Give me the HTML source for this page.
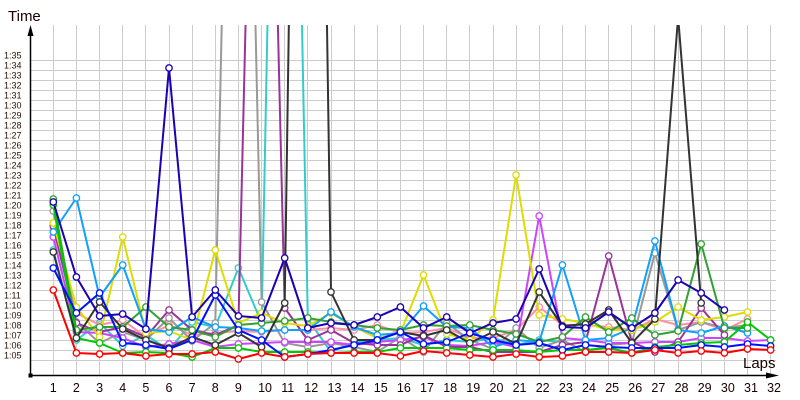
<!DOCTYPE html>
<html><head><meta charset="utf-8">
<style>
html,body{margin:0;padding:0;background:#fff;}
svg{display:block;}
text{font-family:"Liberation Sans",sans-serif;}
</style></head>
<body>
<svg width="800" height="400" viewBox="0 0 800 400" xmlns="http://www.w3.org/2000/svg">
<defs>
<clipPath id="clip"><rect x="0" y="25" width="800" height="351"/></clipPath>
<marker id="m-red" markerUnits="userSpaceOnUse" markerWidth="10" markerHeight="10" refX="5" refY="5" overflow="visible"><circle cx="5" cy="5" r="3.2" fill="#fff" stroke="#ff0000" stroke-width="1.3"/></marker>
<marker id="m-navy" markerUnits="userSpaceOnUse" markerWidth="10" markerHeight="10" refX="5" refY="5" overflow="visible"><circle cx="5" cy="5" r="3.2" fill="#fff" stroke="#1c00b4" stroke-width="1.3"/></marker>
<marker id="m-blue" markerUnits="userSpaceOnUse" markerWidth="10" markerHeight="10" refX="5" refY="5" overflow="visible"><circle cx="5" cy="5" r="3.2" fill="#fff" stroke="#0010ff" stroke-width="1.3"/></marker>
<marker id="m-lb" markerUnits="userSpaceOnUse" markerWidth="10" markerHeight="10" refX="5" refY="5" overflow="visible"><circle cx="5" cy="5" r="3.2" fill="#fff" stroke="#10a0ff" stroke-width="1.3"/></marker>
<marker id="m-yel" markerUnits="userSpaceOnUse" markerWidth="10" markerHeight="10" refX="5" refY="5" overflow="visible"><circle cx="5" cy="5" r="3.2" fill="#fff" stroke="#dddd00" stroke-width="1.3"/></marker>
<marker id="m-vio" markerUnits="userSpaceOnUse" markerWidth="10" markerHeight="10" refX="5" refY="5" overflow="visible"><circle cx="5" cy="5" r="3.2" fill="#fff" stroke="#cc44ff" stroke-width="1.3"/></marker>
<marker id="m-pur" markerUnits="userSpaceOnUse" markerWidth="10" markerHeight="10" refX="5" refY="5" overflow="visible"><circle cx="5" cy="5" r="3.2" fill="#fff" stroke="#993399" stroke-width="1.3"/></marker>
<marker id="m-pink" markerUnits="userSpaceOnUse" markerWidth="10" markerHeight="10" refX="5" refY="5" overflow="visible"><circle cx="5" cy="5" r="3.2" fill="#fff" stroke="#ff8fa8" stroke-width="1.3"/></marker>
<marker id="m-gray" markerUnits="userSpaceOnUse" markerWidth="10" markerHeight="10" refX="5" refY="5" overflow="visible"><circle cx="5" cy="5" r="3.2" fill="#fff" stroke="#999999" stroke-width="1.3"/></marker>
<marker id="m-dg" markerUnits="userSpaceOnUse" markerWidth="10" markerHeight="10" refX="5" refY="5" overflow="visible"><circle cx="5" cy="5" r="3.2" fill="#fff" stroke="#333333" stroke-width="1.3"/></marker>
<marker id="m-cyan" markerUnits="userSpaceOnUse" markerWidth="10" markerHeight="10" refX="5" refY="5" overflow="visible"><circle cx="5" cy="5" r="3.2" fill="#fff" stroke="#33cccc" stroke-width="1.3"/></marker>
<marker id="m-green" markerUnits="userSpaceOnUse" markerWidth="10" markerHeight="10" refX="5" refY="5" overflow="visible"><circle cx="5" cy="5" r="3.2" fill="#fff" stroke="#33a033" stroke-width="1.3"/></marker>
<marker id="m-lime" markerUnits="userSpaceOnUse" markerWidth="10" markerHeight="10" refX="5" refY="5" overflow="visible"><circle cx="5" cy="5" r="3.2" fill="#fff" stroke="#00c800" stroke-width="1.3"/></marker>
</defs>

<!-- grid -->
<g stroke="#cccccc" stroke-width="1" shape-rendering="crispEdges">
<line x1="30" y1="60.5" x2="776" y2="60.5"/><line x1="30" y1="70.5" x2="776" y2="70.5"/><line x1="30" y1="80.5" x2="776" y2="80.5"/><line x1="30" y1="90.5" x2="776" y2="90.5"/><line x1="30" y1="100.5" x2="776" y2="100.5"/><line x1="30" y1="110.5" x2="776" y2="110.5"/><line x1="30" y1="120.5" x2="776" y2="120.5"/><line x1="30" y1="130.5" x2="776" y2="130.5"/><line x1="30" y1="140.5" x2="776" y2="140.5"/><line x1="30" y1="150.5" x2="776" y2="150.5"/><line x1="30" y1="160.5" x2="776" y2="160.5"/><line x1="30" y1="170.5" x2="776" y2="170.5"/><line x1="30" y1="180.5" x2="776" y2="180.5"/><line x1="30" y1="190.5" x2="776" y2="190.5"/><line x1="30" y1="200.5" x2="776" y2="200.5"/><line x1="30" y1="210.5" x2="776" y2="210.5"/><line x1="30" y1="220.5" x2="776" y2="220.5"/><line x1="30" y1="230.5" x2="776" y2="230.5"/><line x1="30" y1="240.5" x2="776" y2="240.5"/><line x1="30" y1="250.5" x2="776" y2="250.5"/><line x1="30" y1="260.5" x2="776" y2="260.5"/><line x1="30" y1="270.5" x2="776" y2="270.5"/><line x1="30" y1="280.5" x2="776" y2="280.5"/><line x1="30" y1="290.5" x2="776" y2="290.5"/><line x1="30" y1="300.5" x2="776" y2="300.5"/><line x1="30" y1="310.5" x2="776" y2="310.5"/><line x1="30" y1="320.5" x2="776" y2="320.5"/><line x1="30" y1="330.5" x2="776" y2="330.5"/><line x1="30" y1="340.5" x2="776" y2="340.5"/><line x1="30" y1="350.5" x2="776" y2="350.5"/><line x1="30" y1="360.5" x2="776" y2="360.5"/>
<line x1="53.5" y1="25" x2="53.5" y2="375"/><line x1="76.5" y1="25" x2="76.5" y2="375"/><line x1="99.5" y1="25" x2="99.5" y2="375"/><line x1="122.5" y1="25" x2="122.5" y2="375"/><line x1="145.5" y1="25" x2="145.5" y2="375"/><line x1="169.5" y1="25" x2="169.5" y2="375"/><line x1="192.5" y1="25" x2="192.5" y2="375"/><line x1="215.5" y1="25" x2="215.5" y2="375"/><line x1="238.5" y1="25" x2="238.5" y2="375"/><line x1="261.5" y1="25" x2="261.5" y2="375"/><line x1="284.5" y1="25" x2="284.5" y2="375"/><line x1="307.5" y1="25" x2="307.5" y2="375"/><line x1="331.5" y1="25" x2="331.5" y2="375"/><line x1="354.5" y1="25" x2="354.5" y2="375"/><line x1="377.5" y1="25" x2="377.5" y2="375"/><line x1="400.5" y1="25" x2="400.5" y2="375"/><line x1="423.5" y1="25" x2="423.5" y2="375"/><line x1="446.5" y1="25" x2="446.5" y2="375"/><line x1="469.5" y1="25" x2="469.5" y2="375"/><line x1="493.5" y1="25" x2="493.5" y2="375"/><line x1="516.5" y1="25" x2="516.5" y2="375"/><line x1="539.5" y1="25" x2="539.5" y2="375"/><line x1="562.5" y1="25" x2="562.5" y2="375"/><line x1="585.5" y1="25" x2="585.5" y2="375"/><line x1="608.5" y1="25" x2="608.5" y2="375"/><line x1="631.5" y1="25" x2="631.5" y2="375"/><line x1="654.5" y1="25" x2="654.5" y2="375"/><line x1="678.5" y1="25" x2="678.5" y2="375"/><line x1="701.5" y1="25" x2="701.5" y2="375"/><line x1="724.5" y1="25" x2="724.5" y2="375"/><line x1="747.5" y1="25" x2="747.5" y2="375"/><line x1="770.5" y1="25" x2="770.5" y2="375"/>
</g>

<!-- series -->
<g clip-path="url(#clip)" fill="none" stroke-width="2" stroke-linejoin="round">
<polyline stroke="#33cccc" marker-start="url(#m-cyan)" marker-mid="url(#m-cyan)" marker-end="url(#m-cyan)" points="53.3,250 76.4,340 99.6,323 122.7,346 145.9,335 169,350 192.1,322 215.3,327 238.4,268 261.6,323 284.7,-850 307.8,319 331,352 354.1,342 377.3,340 400.4,338 423.5,345 446.7,340 469.8,342 493,338 516.1,345 539.2,340 562.4,342"/>
<polyline stroke="#ff8fa8" marker-start="url(#m-pink)" marker-mid="url(#m-pink)" marker-end="url(#m-pink)" points="53.3,230 76.4,313 99.6,325 122.7,320 145.9,337 169,325 192.1,335 215.3,333 238.4,331 261.6,332 284.7,330 307.8,330 331,328 354.1,330 377.3,325 400.4,333 423.5,332 446.7,328 469.8,338 493,338 516.1,330 539.2,307 562.4,325 585.5,325 608.7,327 631.8,330 654.9,319 678.1,325 701.2,322 724.4,330 747.5,319"/>
<polyline stroke="#999999" marker-start="url(#m-gray)" marker-mid="url(#m-gray)" marker-end="url(#m-gray)" points="53.3,211 76.4,322 99.6,343 122.7,332 145.9,340 169,318 192.1,341 215.3,323 238.4,-750 261.6,302 284.7,343 307.8,347 331,343 354.1,347 377.3,352 400.4,337 423.5,352 446.7,323 469.8,340 493,349 516.1,328 539.2,348 562.4,340 585.5,352 608.7,345 631.8,343 654.9,253 678.1,330 701.2,322 724.4,328 747.5,325"/>
<polyline stroke="#cc44ff" marker-start="url(#m-vio)" marker-mid="url(#m-vio)" marker-end="url(#m-vio)" points="53.3,237 76.4,332 99.6,333 122.7,338 145.9,347 169,344 192.1,340 215.3,347 238.4,344 261.6,343 284.7,342 307.8,342 331,342 354.1,345 377.3,342 400.4,340 423.5,337 446.7,345 469.8,346 493,342 516.1,347 539.2,216 562.4,338 585.5,340 608.7,343 631.8,343 654.9,342 678.1,342 701.2,338 724.4,338 747.5,341 770.6,340"/>
<polyline stroke="#993399" marker-start="url(#m-pur)" marker-mid="url(#m-pur)" marker-end="url(#m-pur)" points="53.3,226 76.4,323 99.6,332 122.7,327 145.9,337 169,310 192.1,330 215.3,335 238.4,325 261.6,-650 284.7,308 307.8,340 331,330 354.1,343 377.3,345 400.4,345 423.5,335 446.7,347 469.8,347 493,352 516.1,352 539.2,352 562.4,345 585.5,342 608.7,256 631.8,342 654.9,352 678.1,342 701.2,308 724.4,335"/>
<polyline stroke="#dddd00" marker-start="url(#m-yel)" marker-mid="url(#m-yel)" marker-end="url(#m-yel)" points="53.3,223 76.4,307 99.6,337 122.7,237 145.9,333 169,331 192.1,340 215.3,250 238.4,323 261.6,313 284.7,323 307.8,326 331,313 354.1,327 377.3,338 400.4,333 423.5,275 446.7,334 469.8,340 493,320 516.1,175 539.2,315 562.4,319 585.5,323 608.7,330 631.8,330 654.9,322 678.1,307 701.2,320 724.4,317 747.5,312"/>
<polyline stroke="#10a0ff" marker-start="url(#m-lb)" marker-mid="url(#m-lb)" marker-end="url(#m-lb)" points="53.3,232 76.4,198 99.6,297 122.7,265 145.9,329 169,332 192.1,317 215.3,327 238.4,328 261.6,331 284.7,330 307.8,330 331,312 354.1,327 377.3,335 400.4,333 423.5,306 446.7,327 469.8,328 493,347 516.1,340 539.2,342 562.4,265 585.5,340 608.7,338 631.8,328 654.9,241 678.1,330 701.2,333 724.4,326 747.5,333"/>
<polyline stroke="#33a033" marker-start="url(#m-green)" marker-mid="url(#m-green)" marker-end="url(#m-green)" points="53.3,199 76.4,330 99.6,327 122.7,327 145.9,307 169,327 192.1,330 215.3,337 238.4,325 261.6,323 284.7,321 307.8,318 331,322 354.1,325 377.3,328 400.4,330 423.5,325 446.7,326 469.8,325 493,330 516.1,334 539.2,342 562.4,337 585.5,317 608.7,332 631.8,318 654.9,335 678.1,331 701.2,244 724.4,328 747.5,328"/>
<polyline stroke="#00c800" marker-start="url(#m-lime)" marker-mid="url(#m-lime)" marker-end="url(#m-lime)" points="53.3,205 76.4,338 99.6,343 122.7,353 145.9,352 169,353 192.1,357 215.3,348 238.4,348 261.6,352 284.7,352 307.8,352 331,353 354.1,352 377.3,352 400.4,348 423.5,348 446.7,348 469.8,350 493,350 516.1,350 539.2,352 562.4,350 585.5,350 608.7,348 631.8,353 654.9,347 678.1,345 701.2,343 724.4,342 747.5,322 770.6,340"/>
<polyline stroke="#333333" marker-start="url(#m-dg)" marker-mid="url(#m-dg)" marker-end="url(#m-dg)" points="53.3,252 76.4,338 99.6,302 122.7,329 145.9,340 169,348 192.1,337 215.3,345 238.4,333 261.6,347 284.7,303 307.8,-1250 331,292 354.1,340 377.3,340 400.4,332 423.5,336 446.7,330 469.8,343 493,332 516.1,344 539.2,292 562.4,326 585.5,324 608.7,310 631.8,343 654.9,319 678.1,17 701.2,303"/>
<polyline stroke="#0010ff" marker-start="url(#m-blue)" marker-mid="url(#m-blue)" marker-end="url(#m-blue)" points="53.3,268 76.4,313 99.6,293 122.7,343 145.9,345 169,349 192.1,340 215.3,295 238.4,330 261.6,340 284.7,357 307.8,354 331,350 354.1,345 377.3,340 400.4,332 423.5,344 446.7,342 469.8,333 493,340 516.1,345 539.2,343 562.4,350 585.5,345 608.7,347 631.8,348 654.9,348 678.1,348 701.2,345 724.4,347 747.5,344 770.6,346"/>
<polyline stroke="#1c00b4" marker-start="url(#m-navy)" marker-mid="url(#m-navy)" marker-end="url(#m-navy)" points="53.3,202 76.4,277 99.6,316 122.7,314 145.9,329 169,68 192.1,317 215.3,290 238.4,316 261.6,318 284.7,258 307.8,328 331,323 354.1,325 377.3,317 400.4,307 423.5,328 446.7,317 469.8,333 493,323 516.1,319 539.2,269 562.4,327 585.5,328 608.7,312 631.8,328 654.9,313 678.1,280 701.2,293 724.4,310"/>
<polyline stroke="#ff0000" marker-start="url(#m-red)" marker-mid="url(#m-red)" marker-end="url(#m-red)" points="53.3,290 76.4,353 99.6,354 122.7,353 145.9,356 169,354 192.1,354 215.3,352 238.4,359 261.6,353 284.7,357 307.8,354 331,353 354.1,353 377.3,353 400.4,356 423.5,351 446.7,353 469.8,355 493,357 516.1,354 539.2,357 562.4,356 585.5,352 608.7,352 631.8,353 654.9,350 678.1,353 701.2,351 724.4,353 747.5,349 770.6,350"/>
</g>

<!-- axes -->
<g stroke="#000" stroke-width="1.5">
<line x1="30.5" y1="376" x2="30.5" y2="32"/>
<line x1="30" y1="375.5" x2="768" y2="375.5"/>
</g>
<polygon points="30.5,25 27.5,36 33.5,36" fill="#000"/>
<polygon points="779,375.5 766,372.5 766,378.5" fill="#000"/>
<rect x="28.5" y="373.5" width="4" height="4" fill="#000"/>

<text x="8" y="21" font-size="15" fill="#1a0000">Time</text>
<text x="743" y="368" font-size="15" fill="#1a0000">Laps</text>

<!-- y labels -->
<g font-size="9" fill="#2a1000">
<text x="4" y="58.5">1:35</text><text x="4" y="68.5">1:34</text><text x="4" y="78.5">1:33</text><text x="4" y="88.5">1:32</text><text x="4" y="98.5">1:31</text><text x="4" y="108.5">1:30</text><text x="4" y="118.5">1:29</text><text x="4" y="128.5">1:28</text><text x="4" y="138.5">1:27</text><text x="4" y="148.5">1:26</text><text x="4" y="158.5">1:25</text><text x="4" y="168.5">1:24</text><text x="4" y="178.5">1:23</text><text x="4" y="188.5">1:22</text><text x="4" y="198.5">1:21</text><text x="4" y="208.5">1:20</text><text x="4" y="218.5">1:19</text><text x="4" y="228.5">1:18</text><text x="4" y="238.5">1:17</text><text x="4" y="248.5">1:16</text><text x="4" y="258.5">1:15</text><text x="4" y="268.5">1:14</text><text x="4" y="278.5">1:13</text><text x="4" y="288.5">1:12</text><text x="4" y="298.5">1:11</text><text x="4" y="308.5">1:10</text><text x="4" y="318.5">1:09</text><text x="4" y="328.5">1:08</text><text x="4" y="338.5">1:07</text><text x="4" y="348.5">1:06</text><text x="4" y="358.5">1:05</text>
</g>

<!-- x labels -->
<g font-size="12.5" fill="#1a0000">
<text x="49.8" y="392">1</text><text x="72.9" y="392">2</text><text x="96.1" y="392">3</text><text x="119.2" y="392">4</text><text x="142.4" y="392">5</text><text x="165.5" y="392">6</text><text x="188.6" y="392">7</text><text x="211.8" y="392">8</text><text x="234.9" y="392">9</text><text x="258.1" y="392">10</text><text x="281.2" y="392">11</text><text x="304.3" y="392">12</text><text x="327.5" y="392">13</text><text x="350.6" y="392">14</text><text x="373.8" y="392">15</text><text x="396.9" y="392">16</text><text x="420" y="392">17</text><text x="443.2" y="392">18</text><text x="466.3" y="392">19</text><text x="489.5" y="392">20</text><text x="512.6" y="392">21</text><text x="535.7" y="392">22</text><text x="558.9" y="392">23</text><text x="582" y="392">24</text><text x="605.2" y="392">25</text><text x="628.3" y="392">26</text><text x="651.4" y="392">27</text><text x="674.6" y="392">28</text><text x="697.7" y="392">29</text><text x="720.9" y="392">30</text><text x="744" y="392">31</text><text x="767.1" y="392">32</text>
</g>
</svg>
</body></html>
